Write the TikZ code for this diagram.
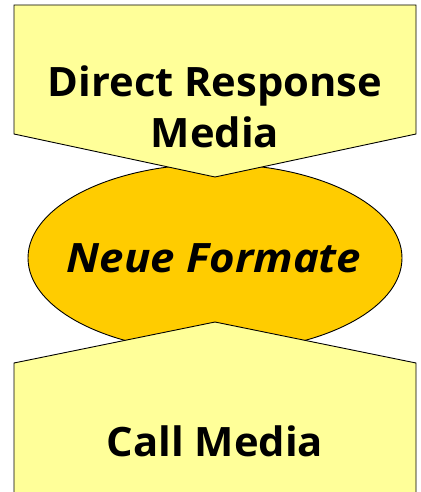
\documentclass[tikz,border=0pt]{standalone}
\usepackage{fontspec}
\setmainfont{Open Sans}[
  BoldFeatures={FakeStretch=1.03},
  BoldItalicFeatures={FakeStretch=1.08}]
\definecolor{paleyellow}{HTML}{FFFF99}
\definecolor{goldfill}{HTML}{FFCC00}
\begin{document}
\begin{tikzpicture}[x=1pt,y=-1pt,
  shp/.style={draw=black, fill=paleyellow, line width=0.9pt, line join=miter},
  oval/.style={draw=black, fill=goldfill, line width=0.9pt},
  lbl/.style={font=\fontsize{40.5}{48}\selectfont\bfseries, inner sep=0pt, anchor=base},
  lbli/.style={font=\fontsize{40.5}{48}\selectfont\bfseries\itshape, inner sep=0pt, anchor=base}]
\useasboundingbox (0,0) rectangle (420,492);
\clip (0,0) rectangle (420,492);
\draw[oval] (215,258) ellipse [x radius=187, y radius=94];
\draw[shp] (14,5) -- (416,5) -- (416,134) -- (215,177) -- (14,134) -- cycle;
\draw[shp] (215,322) -- (416,363) -- (416,500) -- (14,500) -- (14,363) -- cycle;
\node[lbl] (drm1) at (215,97) {Direct Response};
\node[lbl] (drm2) at (215,147) {Media};
\node[lbli] (neu) at (214,272) {Neue Formate};
\node[lbl] (call) at (215,456) {Call Media};
\end{tikzpicture}
\end{document}
